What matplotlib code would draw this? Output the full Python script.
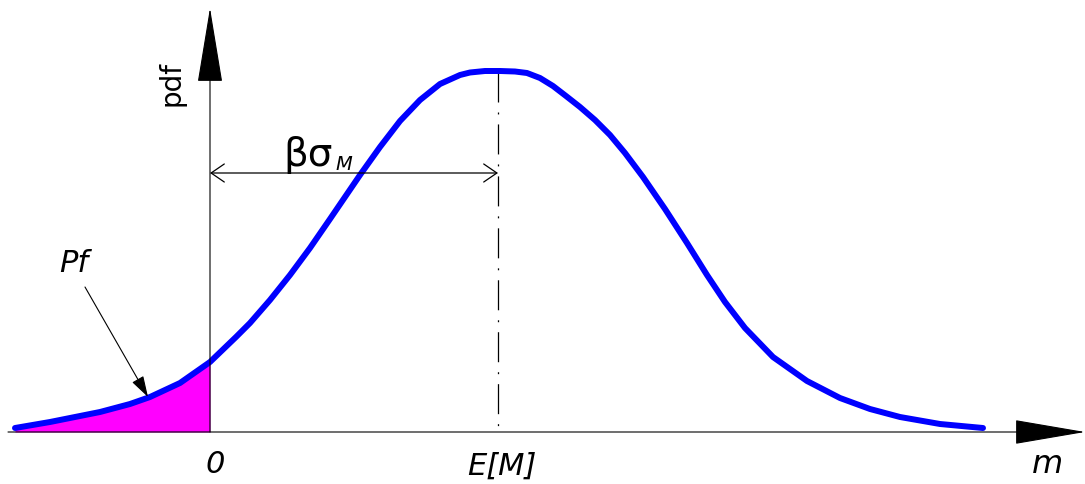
import matplotlib
matplotlib.use("Agg")
import matplotlib.pyplot as plt

plt.rcParams['lines.scale_dashes'] = False

# curve (m position, pdf height in picture units, y grows downward)
curve_m = [15, 50, 100, 130, 150, 180, 210, 236, 250, 270, 290, 310, 330, 345,
           360, 380, 400, 420, 440, 460, 470, 485, 500, 515, 527, 540, 553, 566,
           580, 595, 610, 625, 643, 665, 687, 707, 725, 745, 773, 807, 840, 870,
           900, 940, 983]
curve_pdf = [428, 422, 412, 404, 397, 383, 362, 337, 323, 300, 275, 248, 219, 197,
             175, 147, 121, 100, 84, 75, 72.5, 71, 71, 71.5, 73, 78, 86, 96,
             107, 120, 135, 153, 177, 209, 243, 275, 302, 328, 357, 381, 398, 409,
             417, 424, 428]

baseline = 432
zero_m = 210
mean_m = 498
peak_pdf = 72
dim_level = 173

fig = plt.figure(figsize=(10.85, 4.84), dpi=100)
ax = fig.add_axes([0, 0, 1, 1])
ax.set_xlim(0, 1085)
ax.set_ylim(484, 0)
ax.axis('off')

# failure probability area
n_fail = curve_m.index(zero_m) + 1
ax.fill_between(curve_m[:n_fail], baseline, curve_pdf[:n_fail], color='#ff00ff', lw=0)

# axes with arrows
ax.annotate('', xy=(1085, baseline), xytext=(8, baseline),
            arrowprops=dict(arrowstyle='-|>,head_length=2.34,head_width=0.4',
                            mutation_scale=20, lw=0.8, color='black',
                            shrinkA=0, shrinkB=0))
ax.annotate('', xy=(zero_m, 8), xytext=(zero_m, baseline),
            arrowprops=dict(arrowstyle='-|>,head_length=2.48,head_width=0.41',
                            mutation_scale=20, lw=0.8, color='black',
                            shrinkA=0, shrinkB=0))

# mean line (dash-dot)
ax.plot([mean_m, mean_m], [peak_pdf, baseline], color='black', lw=0.9,
        linestyle=(0, (21.6, 7.2, 1.4, 7.2)))

# pdf curve
ax.plot(curve_m, curve_pdf, color='#0000ff', lw=4.3, solid_capstyle='round',
        solid_joinstyle='round')

# beta*sigma dimension
ax.annotate('', xy=(zero_m, dim_level), xytext=(mean_m, dim_level),
            arrowprops=dict(arrowstyle='<->,head_length=0.95,head_width=0.65',
                            mutation_scale=10, lw=0.9, color='black',
                            shrinkA=0, shrinkB=0))
ax.text(283, 166, 'βσ', fontsize=28, ha='left', va='baseline')
ax.text(335, 170, 'M', fontsize=14, style='italic', ha='left', va='baseline')

# Pf pointer
ax.annotate('', xy=(148, 397), xytext=(85, 287),
            arrowprops=dict(arrowstyle='-|>,head_length=1.3,head_width=0.4',
                            mutation_scale=10, lw=0.8, color='black',
                            shrinkA=0, shrinkB=0))
ax.text(74, 272, 'Pf', fontsize=22, style='italic', ha='center', va='baseline')

# labels
ax.text(172, 84, 'pdf', fontsize=20, rotation=90, ha='center', va='center')
ax.text(215, 473, '0', fontsize=22, style='italic', ha='center', va='baseline')
ax.text(502, 475, 'E[M]', fontsize=22, style='italic', ha='center', va='baseline')
ax.text(1047, 473, 'm', fontsize=23, style='italic', ha='center', va='baseline')

fig.savefig('out.png', dpi=100)
